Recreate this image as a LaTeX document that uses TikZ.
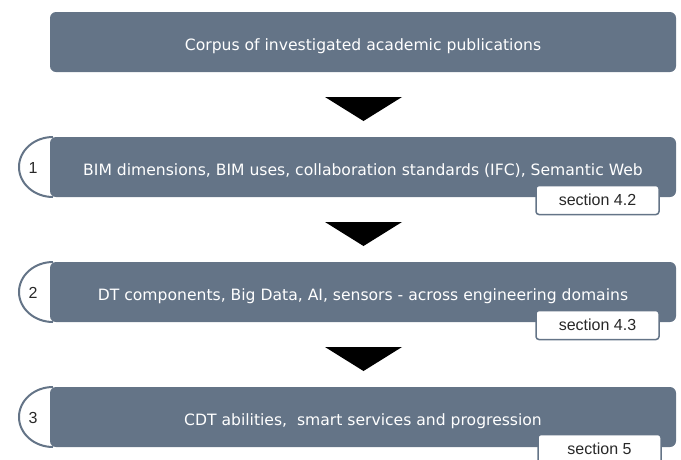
\documentclass[tikz,border=0pt]{standalone}
\usepackage{fontspec}
\newfontfamily\boxfont{DejaVu Sans}
\newfontfamily\labfont{Liberation Sans}
\definecolor{slate}{RGB}{100,116,135}
\definecolor{labtext}{RGB}{40,40,40}
\begin{document}
\begin{tikzpicture}[x=1pt,y=-1pt,
  mainbox/.style={fill=slate, rounded corners=6pt, minimum width=626pt, minimum height=60pt, inner sep=0pt, text height=17pt, text depth=0pt, text=white, font=\boxfont\fontsize{15.6}{18}\selectfont},
  seclabel/.style={fill=white, draw=slate, line width=1.5pt, rounded corners=3pt, minimum width=123pt, minimum height=29pt, inner sep=0pt, text=labtext, font=\labfont\fontsize{16}{18}\selectfont},
  numtab/.style={fill=white, draw=slate, line width=2pt},
  numtext/.style={text=labtext, font=\labfont\fontsize{16}{18}\selectfont, inner sep=0pt},
  downarrow/.style={fill=black}]
\useasboundingbox (0,0) rectangle (681,459);
% top box
\node[mainbox] (b0) at (363,42) {Corpus of investigated academic publications};
% arrows
\foreach \i/\y in {a1/97, a2/222, a3/347}{
  \coordinate (\i l) at (325,\y);
  \coordinate (\i r) at (402,\y);
  \coordinate (\i t) at (363.5,\y+24);
  \fill[downarrow] (\i l) -- (\i r) -- (\i t) -- cycle;
}
% number tabs
\foreach \n/\y in {1/167, 2/292, 3/417}{
  \coordinate (c\n) at (53,\y);
  \draw[numtab] ([yshift=30pt]c\n) arc[start angle=90, end angle=270, x radius=34pt, y radius=30pt];
}
% boxes
\node[mainbox] (b1) at (363,167) {BIM dimensions, BIM uses, collaboration standards (IFC), Semantic Web};
\node[mainbox] (b2) at (363,292) {DT components, Big Data, AI, sensors - across engineering domains};
\node[mainbox] (b3) at (363,417) {CDT abilities,\ \ smart services and progression};
% numbers
\node[numtext] (n1) at (33,168) {1};
\node[numtext] (n2) at (33,293) {2};
\node[numtext] (n3) at (33,418) {3};
% section labels
\node[seclabel] (s1) at (597.5,200) {section 4.2};
\node[seclabel] (s2) at (597.5,325) {section 4.3};
\node[seclabel] (s3) at (599.5,449) {section 5};
\end{tikzpicture}
\end{document}
